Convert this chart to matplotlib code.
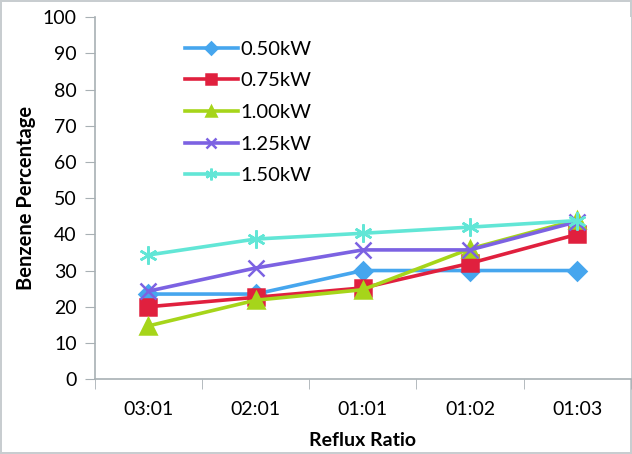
import matplotlib.pyplot as plt
import numpy as np

plt.rcParams['font.family'] = ['Lato', 'DejaVu Sans']

ratios = ["03:01", "02:01", "01:01", "01:02", "01:03"]
p050 = [23.5, 23.5, 30, 30, 30]
p075 = [20, 22.6, 25.2, 32, 40]
p100 = [14.7, 21.8, 24.7, 36, 44]
p125 = [24.3, 30.7, 35.7, 35.7, 43.5]
p150 = [34.3, 38.7, 40.3, 42, 43.8]

series = [
    ("0.50kW", p050, "#46a6ee", "D", 9),
    ("0.75kW", p075, "#e0203e", "s", 11),
    ("1.00kW", p100, "#a6d51a", "^", 12),
    ("1.25kW", p125, "#7c62e2", "x", 11),
    ("1.50kW", p150, "#62e6d6", (6, 2, 0), 13),
]

fig = plt.figure(figsize=(6.32, 4.54), dpi=100)
fig.patch.set_edgecolor("#c8cdd0")
fig.patch.set_linewidth(1.5)
ax = fig.add_axes([0.150, 0.165, 0.848, 0.797])

x = np.arange(len(ratios))
for name, vals, col, mk, ms in series:
    ax.plot(x, vals, color=col, lw=2.6, marker=mk, markersize=ms,
            markeredgewidth=1.8, markeredgecolor=col, markerfacecolor=col,
            label=name)

ax.set_xlim(-0.5, len(ratios) - 0.5)
ax.set_ylim(0, 100)
ax.set_yticks(range(0, 101, 10))
ax.set_xticks(x)
ax.set_xticklabels(ratios)
ax.set_xticks(np.arange(-0.5, len(ratios)), minor=True)
ax.tick_params(axis="x", which="major", length=0, pad=16, labelsize=14)
ax.tick_params(axis="x", which="minor", length=7, color="#a8b0b4")
ax.tick_params(axis="y", length=7, color="#a8b0b4", labelsize=14, pad=6)

for s in ["top", "right"]:
    ax.spines[s].set_visible(False)
for s in ["left", "bottom"]:
    ax.spines[s].set_color("#a8b0b4")
    ax.spines[s].set_linewidth(1.2)

ax.set_ylabel("Benzene Percentage", fontsize=14.5, fontweight="bold", labelpad=5)
ax.set_xlabel("Reflux Ratio", fontsize=14, fontweight="bold", labelpad=10)

ax.legend(loc="upper left", bbox_to_anchor=(0.135, 0.985), frameon=False,
          fontsize=14.5, handlelength=2.6, handletextpad=0.15, labelspacing=0.72,
          markerscale=0.65)

fig.savefig("out.png", dpi=100)
